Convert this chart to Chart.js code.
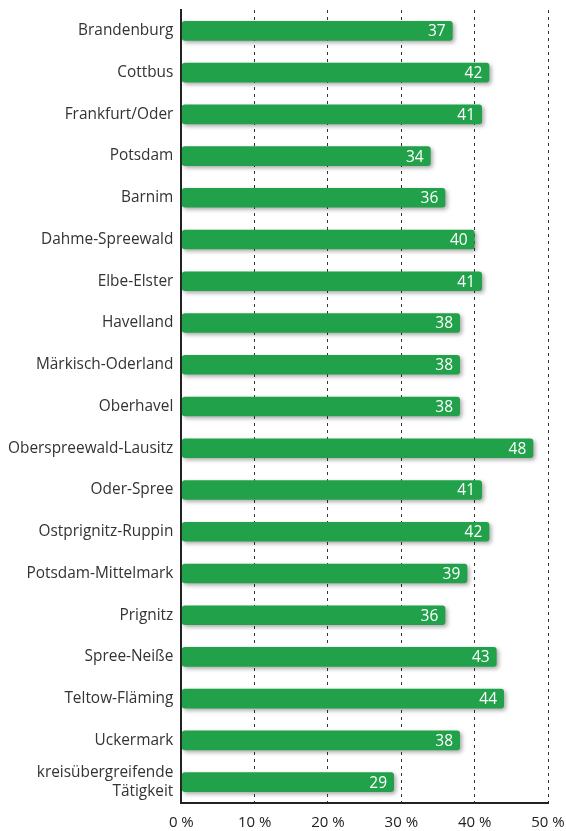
<!DOCTYPE html>
<html lang="de">
<head>
    <meta charset="UTF-8">
    <title>Anteil nach Landkreisen</title>
    <script src="https://cdn.jsdelivr.net/npm/chart.js"></script>
    <style>
        body {
            margin: 0;
            background: #ffffff;
        }
        #wrap {
            width: 566px;
            height: 831px;
            position: relative;
        }
    </style>
</head>
<body>
    <div id="wrap">
        <canvas id="barChart"></canvas>
    </div>

    <script>
        // Regionen (Kategorien)
        const regions = [
            'Brandenburg', 'Cottbus', 'Frankfurt/Oder', 'Potsdam', 'Barnim',
            'Dahme-Spreewald', 'Elbe-Elster', 'Havelland', 'Märkisch-Oderland',
            'Oberhavel', 'Oberspreewald-Lausitz', 'Oder-Spree', 'Ostprignitz-Ruppin',
            'Potsdam-Mittelmark', 'Prignitz', 'Spree-Neiße', 'Teltow-Fläming',
            'Uckermark', ['kreisübergreifende', 'Tätigkeit']
        ];

        // Werte in Prozent
        const shares = [37, 42, 41, 34, 36, 40, 41, 38, 38, 38, 48, 41, 42, 39, 36, 43, 44, 38, 29];

        // Achsenbeschriftung
        const tickValues = [0, 10, 20, 30, 40, 50];

        const barGreen = '#21a24a';
        const textFont = "'Open Sans', 'DejaVu Sans', sans-serif";

        // Schatten unter den Balken
        const shadowPlugin = {
            id: 'barShadow',
            beforeDatasetDraw(chart) {
                const c = chart.ctx;
                c.save();
                c.shadowColor = 'rgba(0, 0, 0, 0.35)';
                c.shadowBlur = 4;
                c.shadowOffsetX = 2;
                c.shadowOffsetY = 2;
            },
            afterDatasetDraw(chart) {
                chart.ctx.restore();
            }
        };

        // Werte weiß am Balkenende
        const valueLabels = {
            id: 'valueLabels',
            afterDatasetsDraw(chart) {
                const c = chart.ctx;
                const meta = chart.getDatasetMeta(0);
                c.save();
                c.fillStyle = '#ffffff';
                c.font = '15.5px ' + textFont;
                c.textAlign = 'right';
                c.textBaseline = 'middle';
                meta.data.forEach((bar, i) => {
                    c.fillText(String(shares[i]), bar.x - 7, bar.y + 1);
                });
                c.restore();
            }
        };

        const ctx = document.getElementById('barChart').getContext('2d');

        new Chart(ctx, {
            type: 'bar',
            data: {
                labels: regions,
                datasets: [{
                    data: shares,
                    backgroundColor: barGreen,
                    borderRadius: 3,
                    borderSkipped: false,
                    barPercentage: 0.47,
                    categoryPercentage: 1
                }]
            },
            options: {
                indexAxis: 'y',
                responsive: true,
                maintainAspectRatio: false,
                animation: false,
                layout: {
                    padding: { top: 10, right: 0, bottom: -12, left: 0 }
                },
                plugins: {
                    legend: { display: false },
                    tooltip: { enabled: false }
                },
                scales: {
                    x: {
                        min: 0,
                        max: 50,
                        afterBuildTicks(scale) {
                            scale.ticks = tickValues.map(v => ({ value: v }));
                        },
                        afterFit(scale) {
                            scale.paddingLeft = 0;
                            scale.paddingRight = 18;
                        },
                        grid: {
                            color: '#333333',
                            lineWidth: 1,
                            drawTicks: false
                        },
                        border: {
                            display: true,
                            color: '#222222',
                            width: 2,
                            dash: [3, 4]
                        },
                        ticks: {
                            padding: 11,
                            color: '#222222',
                            font: { family: textFont, size: 15 },
                            callback: v => v + ' %'
                        }
                    },
                    y: {
                        afterFit(scale) {
                            scale.paddingTop = 0;
                            scale.paddingBottom = 0;
                        },
                        grid: { display: false, drawTicks: false },
                        border: { display: true, color: '#222222', width: 2 },
                        ticks: {
                            padding: 8,
                            color: '#333333',
                            font: { family: textFont, size: 15.4 }
                        }
                    }
                }
            },
            plugins: [shadowPlugin, valueLabels]
        });
    </script>
</body>
</html>
